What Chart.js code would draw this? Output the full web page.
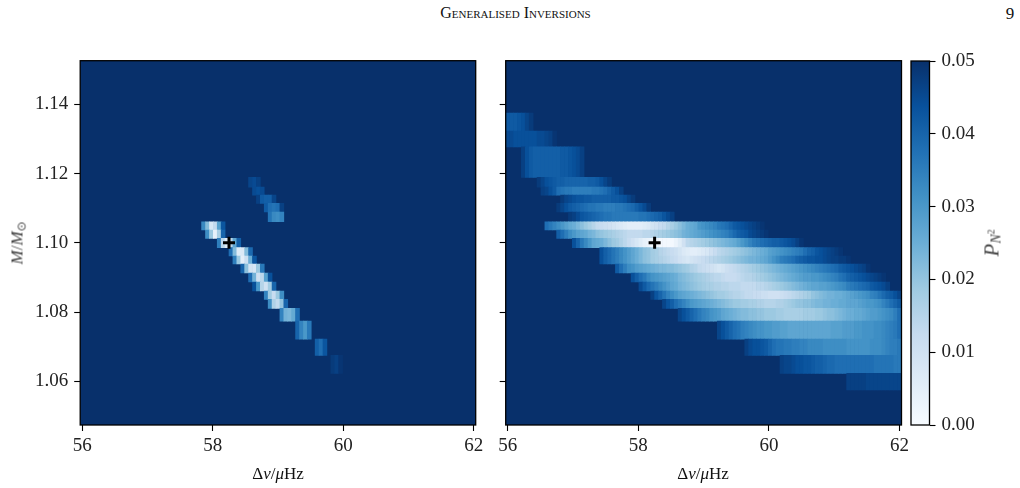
<!DOCTYPE html>
<html>
<head>
<meta charset="utf-8">
<style>
  html, body { margin: 0; padding: 0; background: #fff; }
  body { position: relative; width: 1020px; height: 488px; overflow: hidden; font-family: "Liberation Serif", serif; color: #111; }
  canvas { position: absolute; top: 0; }
  .label { position: absolute; white-space: nowrap; font-size: 17px; line-height: 1; }
  .label sub { font-size: 12px; line-height: 0; }
  .label sup { font-size: 9px; line-height: 0; }
  .rot { writing-mode: vertical-rl; transform: translate(-50%, -50%) rotate(180deg); color: #444; }
  .mid { transform: translate(-50%, -50%); }
  .power { font-size: 21px; }
  .power sub { font-size: 14px; }
  .power sup { font-size: 10px; }
</style>
<script src="https://cdn.jsdelivr.net/npm/chart.js@4/dist/chart.umd.js"></script>
</head>
<body>
<div class="label mid" style="left:515.5px;top:13px;font-size:16px;font-variant:small-caps;">Generalised Inversions</div>
<div class="label mid" style="left:1010px;top:13px;font-size:17px;">9</div>
<canvas id="left" style="left:0"></canvas>
<canvas id="right" style="left:490px"></canvas>
<canvas id="bar" style="left:900px"></canvas>
<div class="label rot" style="left:17px;top:243px;"><i>M</i>/<i>M</i><sub>⊙</sub></div>
<div class="label mid" style="left:278px;top:473px;">Δ<i>ν</i>/<i>μ</i>Hz</div>
<div class="label mid" style="left:703px;top:473px;">Δ<i>ν</i>/<i>μ</i>Hz</div>
<div class="label rot power" style="left:992px;top:243px;"><i>P</i><sub><i>N</i><sup>2</sup></sub></div>
<script>
// Axis ticks and limits
const freqTicks = [56, 58, 60, 62];
const massTicks = [1.06, 1.08, 1.10, 1.12, 1.14];
const powerTicks = [0, 0.01, 0.02, 0.03, 0.04, 0.05];
const freqRange = [55.97, 62.03];
const massRange = [1.0474, 1.1526];
const powerRange = [0, 0.05];

// Reference model marked on both panels
const modelFreq = 58.25;
const modelMass = 1.10;

// Mass boundaries of the grid rows, top to bottom
const massEdges = [1.1375, 1.1323, 1.1277, 1.1189, 1.1161, 1.1138, 1.1114, 1.1089, 1.1061, 1.1037, 1.1013, 1.0986,
  1.0962, 1.0939, 1.0913, 1.0887, 1.0861, 1.0837, 1.0811, 1.0774, 1.0722, 1.0675, 1.0623, 1.0575];

// Frequency grid: column c is centred on 56 + 0.06 c
const freqStart = 56;
const freqStep = 0.06;

// Each row: [row index, first column, P values in units of 0.001]. Cells left out sit at the 0.05 ceiling.
const leftRows = [
  [3, 43, [46, 45, 47]],
  [4, 44, [45, 44, 45]],
  [5, 45, [47, 42, 41, 41, 46]],
  [6, 47, [42, 38, 37, 38, 47]],
  [7, 48, [37, 33, 32, 34]],
  [8, 31, [33, 22, 8, 13, 28, 43]],
  [9, 32, [32, 19, 4, 17, 40]],
  [10, 35, [35, 14, 6, 14, 27, 41]],
  [11, 38, [38, 22, 6, 7, 22, 39]],
  [12, 39, [35, 19, 5, 11, 25, 43]],
  [13, 41, [40, 21, 9, 8, 19, 36]],
  [14, 43, [38, 24, 10, 14, 28, 44]],
  [15, 44, [44, 30, 15, 10, 18, 40]],
  [16, 47, [34, 18, 12, 19, 32]],
  [17, 48, [32, 16, 13, 20, 40]],
  [18, 51, [34, 24, 23, 26, 38]],
  [19, 55, [40, 34, 30, 36]],
  [20, 60, [41, 38, 43]],
  [21, 64, [48, 47, 49]]
];

const rightRows = [
  [0, 0, [42, 42, 42, 43, 44, 46, 48]],
  [1, 0, [45, 45, 44, 44, 44, 44, 44, 44, 45, 45, 46, 47, 49]],
  [2, 4, [47, 44, 42, 41, 41, 41, 41, 41, 41, 41, 42, 42, 43, 44, 45, 47]],
  [3, 8, [48, 46, 44, 43, 42, 41, 41, 40, 40, 40, 40, 40, 40, 41, 41, 42, 44, 46, 48]],
  [4, 9, [47, 46, 44, 42, 38, 37, 36, 36, 35, 35, 35, 35, 35, 36, 36, 37, 38, 40, 42, 44, 47]],
  [5, 14, [48, 46, 45, 44, 43, 43, 42, 42, 41, 41, 41, 41, 41, 42, 42, 43, 44, 46, 48]],
  [6, 13, [48, 46, 44, 42, 41, 40, 39, 38, 37, 37, 36, 36, 35, 35, 35, 36, 36, 37, 38, 39, 41, 43, 45, 48]],
  [7, 16, [48, 47, 45, 43, 42, 41, 40, 39, 38, 37, 37, 36, 36, 36, 36, 36, 36, 36, 37, 37, 38, 39, 40, 41, 43, 45, 47]],
  [8, 10, [38, 36, 34, 32, 30, 28, 26, 25, 23, 21, 19, 17, 15, 13, 12, 11, 10, 9, 8, 7, 6, 5, 5, 5, 5, 6, 7, 9, 10, 12, 13, 15, 17, 19, 21, 23, 25, 26, 27, 30, 31, 32, 33, 34, 36, 37, 38, 40, 42, 43, 44, 45, 46, 47, 48, 49]],
  [9, 13, [41, 38, 35, 32, 30, 28, 27, 26, 24, 23, 21, 20, 19, 18, 17, 16, 15, 14, 13, 13, 13, 13, 14, 14, 15, 16, 17, 18, 19, 20, 21, 22, 24, 25, 26, 27, 28, 29, 30, 31, 32, 33, 34, 35, 37, 39, 41, 42, 43, 45, 46, 47, 48, 49]],
  [10, 17, [44, 40, 36, 33, 30, 27, 26, 25, 23, 21, 19, 18, 16, 14, 12, 10, 8, 6, 4, 3, 2, 2, 1, 1, 1, 1, 3, 6, 10, 14, 15, 16, 17, 18, 19, 20, 21, 22, 23, 24, 25, 26, 28, 30, 32, 34, 36, 37, 38, 39, 40, 41, 41, 42, 43, 44, 45, 47, 49]],
  [11, 24, [44, 41, 39, 37, 35, 33, 31, 29, 27, 25, 23, 21, 20, 18, 17, 15, 14, 13, 12, 11, 9, 7, 6, 5, 5, 6, 7, 8, 10, 12, 14, 15, 16, 17, 18, 19, 20, 21, 22, 23, 24, 25, 26, 28, 29, 30, 31, 32, 33, 34, 35, 36, 38, 40, 41, 43, 44, 45, 46, 47, 48, 49]],
  [12, 24, [44, 41, 39, 37, 35, 33, 31, 29, 27, 25, 23, 21, 20, 18, 17, 16, 15, 14, 13, 12, 10, 9, 8, 9, 10, 11, 12, 13, 14, 15, 16, 17, 18, 19, 20, 21, 22, 23, 24, 24, 25, 26, 27, 29, 31, 33, 35, 36, 37, 38, 40, 41, 42, 43, 43, 44, 44, 45, 46, 47, 47, 48, 48, 49]],
  [13, 28, [42, 38, 35, 32, 31, 29, 28, 27, 26, 25, 24, 23, 23, 22, 22, 21, 20, 19, 18, 16, 15, 13, 12, 11, 10, 9, 8, 9, 11, 12, 13, 14, 15, 16, 17, 18, 19, 20, 21, 22, 23, 24, 25, 26, 27, 28, 29, 30, 31, 32, 33, 34, 35, 36, 37, 38, 39, 41, 42, 43, 44, 45, 46, 47, 49]],
  [14, 32, [44, 41, 38, 36, 33, 31, 30, 29, 28, 27, 26, 25, 23, 22, 21, 20, 19, 18, 17, 16, 15, 14, 14, 13, 12, 12, 12, 13, 14, 15, 15, 16, 17, 18, 19, 20, 21, 22, 23, 24, 25, 26, 27, 28, 29, 29, 30, 30, 31, 32, 33, 34, 35, 37, 38, 40, 41, 42, 43, 44, 45, 46, 47, 48, 49]],
  [15, 34, [45, 42, 39, 37, 35, 33, 31, 29, 27, 26, 24, 23, 22, 21, 20, 19, 18, 17, 17, 16, 16, 15, 15, 14, 14, 14, 13, 13, 13, 13, 14, 14, 15, 16, 17, 18, 19, 20, 21, 22, 23, 24, 25, 26, 27, 27, 28, 28, 29, 30, 31, 32, 33, 35, 36, 37, 38, 39, 40, 42, 43, 44, 45, 47]],
  [16, 37, [47, 43, 40, 37, 34, 32, 30, 28, 27, 26, 25, 24, 23, 22, 21, 20, 19, 18, 18, 17, 16, 15, 15, 14, 13, 13, 12, 12, 11, 11, 10, 10, 10, 11, 12, 13, 14, 15, 16, 17, 18, 20, 21, 22, 23, 24, 24, 25, 25, 26, 27, 28, 29, 30, 31, 32, 34, 35, 37, 39, 41, 42, 44, 46]],
  [17, 40, [46, 43, 41, 38, 36, 34, 32, 30, 29, 28, 27, 26, 25, 24, 23, 22, 21, 20, 19, 19, 18, 18, 17, 17, 16, 16, 15, 15, 15, 16, 16, 17, 18, 19, 20, 20, 21, 21, 22, 23, 23, 24, 24, 25, 25, 26, 26, 27, 27, 27, 28, 29, 30, 30, 31, 32, 34, 36, 38, 40, 42]],
  [18, 44, [46, 44, 42, 40, 38, 36, 34, 33, 31, 30, 29, 27, 26, 25, 24, 23, 22, 22, 21, 21, 20, 20, 19, 19, 19, 18, 18, 17, 17, 17, 17, 17, 18, 18, 18, 19, 19, 20, 21, 21, 22, 23, 24, 25, 25, 26, 26, 27, 28, 29, 29, 30, 31, 32, 33, 35, 38]],
  [19, 54, [46, 44, 42, 40, 38, 37, 35, 34, 33, 32, 31, 31, 30, 30, 29, 29, 28, 28, 27, 27, 27, 27, 27, 27, 27, 27, 27, 27, 27, 28, 28, 28, 29, 29, 29, 30, 30, 31, 31, 31, 32, 32, 33, 34, 35, 36, 38]],
  [20, 61, [47, 45, 44, 44, 43, 42, 40, 38, 37, 37, 36, 36, 35, 35, 34, 34, 33, 33, 33, 33, 32, 32, 32, 32, 32, 32, 31, 31, 31, 31, 31, 31, 32, 32, 32, 33, 34, 35, 35, 36]],
  [21, 70, [47, 46, 46, 45, 44, 44, 43, 43, 42, 41, 41, 40, 39, 39, 38, 38, 38, 38, 38, 38, 38, 38, 38, 38, 37, 37, 37, 37, 37, 36, 36]],
  [22, 87, [47, 47, 47, 47, 47, 46, 46, 46, 46, 46, 46, 46, 46, 46]]
];

// Matplotlib "Blues", reversed so the lowest P is palest
const colourStops = ['#f7fbff', '#deebf7', '#c6dbef', '#9ecae1', '#6baed6', '#4292c6', '#2171b5', '#08519c', '#08306b'];

function hexToRgb(hex) {
  return [1, 3, 5].map(i => parseInt(hex.slice(i, i + 2), 16));
}
function colourFor(perMille) {
  const t = Math.min(Math.max(perMille / 50, 0), 1) * (colourStops.length - 1);
  const i = Math.min(Math.floor(t), colourStops.length - 2);
  const a = hexToRgb(colourStops[i]);
  const b = hexToRgb(colourStops[i + 1]);
  const f = t - i;
  return 'rgb(' + a.map((c, k) => Math.round(c + (b[k] - c) * f)).join(',') + ')';
}

// Flatten rows into floating-bar cells on the frequency and mass scales
function cellsFrom(rows) {
  const cells = [];
  rows.forEach(([row, first, values]) => {
    values.forEach((v, k) => {
      cells.push({
        x: +(freqStart + freqStep * (first + k)).toFixed(2),
        y: [massEdges[row + 1], massEdges[row]],
        v
      });
    });
  });
  return cells;
}

const TICK_FONT = { family: '"Liberation Serif", serif', size: 19 };
const TICK_COLOR = '#222';

// Fills the plot area with the ceiling colour and strokes the frame
const framePlugin = {
  id: 'frame',
  beforeDatasetsDraw(chart, args, opts) {
    if (!opts.fill) return;
    const a = chart.chartArea;
    chart.ctx.save();
    chart.ctx.fillStyle = opts.fill;
    chart.ctx.fillRect(a.left, a.top, a.width, a.height);
    chart.ctx.restore();
  },
  afterDraw(chart) {
    const a = chart.chartArea;
    chart.ctx.save();
    chart.ctx.strokeStyle = '#000';
    chart.ctx.lineWidth = 1.3;
    chart.ctx.strokeRect(a.left, a.top, a.width, a.height);
    chart.ctx.restore();
  }
};

function makeTicks(values) {
  return axis => { axis.ticks = values.map(value => ({ value })); };
}

function panel(id, width, rows, showMassLabels, yWidth, padRight) {
  const canvas = document.getElementById(id);
  canvas.width = width;
  canvas.height = 488;
  return new Chart(canvas, {
    type: 'bar',
    data: {
      datasets: [
        {
          type: 'scatter',
          data: [{ x: modelFreq, y: modelMass }],
          pointStyle: 'cross',
          pointRadius: 6,
          pointBorderWidth: 3,
          pointBorderColor: '#000',
          pointBackgroundColor: '#000',
          order: 0
        },
        {
          type: 'bar',
          data: cellsFrom(rows),
          grouped: false,
          barPercentage: 1,
          categoryPercentage: 1,
          borderWidth: 0,
          backgroundColor: ctx => colourFor(ctx.raw ? ctx.raw.v : 50),
          order: 1
        }
      ]
    },
    options: {
      responsive: false,
      animation: false,
      events: [],
      layout: { padding: { left: 0, right: padRight, top: 60.7, bottom: 23 } },
      plugins: { legend: { display: false }, tooltip: { enabled: false }, frame: { fill: colourStops[8] } },
      scales: {
        x: {
          type: 'linear',
          offset: false,
          min: freqRange[0],
          max: freqRange[1],
          afterBuildTicks: makeTicks(freqTicks),
          afterFit: s => { s.height = 40; },
          grid: { offset: false, drawOnChartArea: false, tickLength: 6, tickColor: '#000', tickWidth: 1.1 },
          border: { display: false },
          ticks: { autoSkip: false, maxRotation: 0, padding: 4, font: TICK_FONT, color: TICK_COLOR, callback: v => v.toFixed(0) }
        },
        y: {
          type: 'linear',
          min: massRange[0],
          max: massRange[1],
          afterBuildTicks: makeTicks(massTicks),
          afterFit: s => { s.width = yWidth; },
          grid: { drawOnChartArea: false, tickLength: 6, tickColor: '#000', tickWidth: 1.1 },
          border: { display: false },
          ticks: { display: showMassLabels, autoSkip: false, padding: 6, font: TICK_FONT, color: TICK_COLOR, callback: v => v.toFixed(2) }
        }
      }
    },
    plugins: [framePlugin]
  });
}

panel('left', 500, leftRows, true, 80.2, 24.3);
panel('right', 430, rightRows, false, 15.7, 18.5);

// Colour bar: one floating bar spanning the range, filled with the colour map
(function () {
  const canvas = document.getElementById('bar');
  canvas.width = 120;
  canvas.height = 488;
  new Chart(canvas, {
    type: 'bar',
    data: {
      datasets: [{
        data: [{ x: 0.5, y: powerRange }],
        barPercentage: 1,
        categoryPercentage: 1,
        borderWidth: 0,
        backgroundColor: ctx => {
          const a = ctx.chart.chartArea;
          if (!a) return colourStops[4];
          const g = ctx.chart.ctx.createLinearGradient(0, a.bottom, 0, a.top);
          colourStops.forEach((c, i) => g.addColorStop(i / (colourStops.length - 1), c));
          return g;
        }
      }]
    },
    options: {
      responsive: false,
      animation: false,
      events: [],
      layout: { padding: { left: 11, right: 0, top: 61, bottom: 63 } },
      plugins: { legend: { display: false }, tooltip: { enabled: false } },
      scales: {
        x: { type: 'linear', offset: false, min: 0, max: 1, display: false },
        y: {
          type: 'linear',
          position: 'right',
          min: powerRange[0],
          max: powerRange[1],
          afterBuildTicks: makeTicks(powerTicks),
          afterFit: s => { s.width = 90.5; },
          grid: { drawOnChartArea: false, tickLength: 6, tickColor: '#000', tickWidth: 1.1 },
          border: { display: false },
          ticks: { autoSkip: false, padding: 6, font: TICK_FONT, color: TICK_COLOR, callback: v => v.toFixed(2) }
        }
      }
    },
    plugins: [framePlugin]
  });
})();
</script>
</body>
</html>
